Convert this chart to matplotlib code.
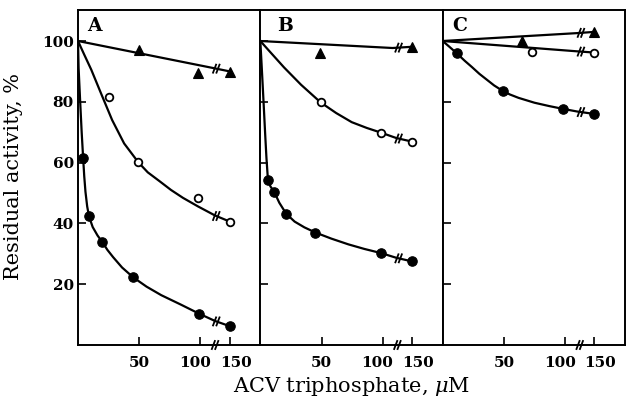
import matplotlib
matplotlib.use("Agg")
import matplotlib.pyplot as plt
import numpy as np

plt.rcParams['font.family'] = ['DejaVu Serif']
plt.rcParams['mathtext.fontset'] = 'dejavuserif'

# ---- data (concentration in uM, residual activity %) ----
panels = ["A", "B", "C"]
tick_values = [50, 100, 150]
tick_labels = ["50", "100", "150"]
y_ticks = [20, 40, 60, 80, 100]

# Panel A
A_tri_x = [50, 98, 150]
A_tri_y = [97, 89.6, 89.8]
A_open_x = [25.3, 49.3, 98, 150]
A_open_y = [81.7, 60.1, 48.2, 40.6]
A_fill_x = [4.2, 9, 20, 45, 98.7, 150]
A_fill_y = [61.5, 42.3, 33.8, 22.3, 10.2, 6.2]
# fitted curves
A_tri_fit_x = [0, 110.6, 150]
A_tri_fit_y = [100, 91.1, 90]
A_open_fit_x = [0, 5, 10.8, 19.3, 27.9, 37.7, 49.3, 57, 66.6, 76, 85.8, 98, 112, 150]
A_open_fit_y = [100, 95.6, 90.6, 82.3, 74.0, 66.3, 60.1, 56.8, 53.9, 51.0, 48.4, 45.6, 42.6, 40.6]
A_fill_fit_x = [0, 0.5, 1.2, 1.9, 3.0, 4.2, 5.1, 6.1, 7.5, 9.0, 12, 16, 20, 24, 28.7, 36, 45, 56, 68, 84, 99, 112, 150]
A_fill_fit_y = [100, 91, 85, 79, 70, 61.5, 55.5, 50.4, 45.6, 42.3, 38.8, 36.0, 33.8, 31.3, 28.9, 25.5, 22.3, 19.2, 16.4, 13.3, 10.3, 7.9, 6.2]

# Panel B
B_tri_x = [49, 150]
B_tri_y = [96.1, 98.1]
B_open_x = [49.3, 98.8, 150]
B_open_y = [79.8, 69.8, 66.9]
B_fill_x = [6.2, 11.3, 21.1, 45, 99, 150]
B_fill_y = [54.4, 50.4, 43.2, 37.0, 30.2, 27.5]
B_tri_fit_x = [0, 108, 150]
B_tri_fit_y = [100, 97.7, 98.1]
B_open_fit_x = [0, 8, 19.4, 33.3, 49.3, 62, 74.7, 87, 99, 111, 150]
B_open_fit_y = [100, 96.4, 91.3, 85.6, 79.8, 76.3, 73.3, 71.4, 69.8, 68.1, 66.9]
B_fill_fit_x = [0, 1.0, 1.9, 3.0, 4.0, 5.0, 6.2, 8.2, 11.3, 15.5, 21.1, 28, 36, 45, 58, 72, 85, 99, 111, 150]
B_fill_fit_y = [100, 92.5, 85.6, 77, 69, 61.5, 54.4, 52.2, 50.4, 46.8, 43.2, 40.6, 38.7, 37.0, 35.0, 33.1, 31.6, 30.2, 28.7, 27.5]

# Panel C
C_tri_x = [65, 150]
C_tri_y = [100, 103]
C_open_x = [73, 150]
C_open_y = [96.5, 96.2]
C_fill_x = [11.4, 49, 98, 150]
C_fill_y = [96, 83.6, 77.7, 76]
C_tri_fit_x = [0, 110, 150]
C_tri_fit_y = [100, 102.6, 103]
C_open_fit_x = [0, 110, 150]
C_open_fit_y = [100, 96.6, 96.2]
C_fill_fit_x = [0, 5.5, 11.4, 18, 24, 30, 36, 42, 49, 55, 62, 75, 87, 98, 110, 150]
C_fill_fit_y = [100, 98.1, 96, 93.5, 91.4, 89.2, 87.3, 85.4, 83.6, 82.4, 81.3, 79.7, 78.6, 77.7, 76.8, 76]

BREAK = 112.0
label_shift = [0, -4.2, 4.8]   # tick-label nudges (display units), as in the figure


def disp(c):
    """map concentration to broken-axis display coordinate"""
    c = np.asarray(c, dtype=float)
    return np.where(c <= BREAK, c, BREAK + (c - BREAK) * (124 - BREAK) / (150 - BREAK))


def slashes(ax, x, y, clip=True):
    for dx in (-1.4, 1.4):
        xc = x + dx
        ax.plot([xc - 1.5, xc + 1.5], [y - 1.6, y + 1.6], color='black', lw=1.3,
                solid_capstyle='butt', zorder=5, clip_on=clip)


data = {
    "A": [(A_tri_x, A_tri_y, A_tri_fit_x, A_tri_fit_y, 'tri'),
          (A_open_x, A_open_y, A_open_fit_x, A_open_fit_y, 'open'),
          (A_fill_x, A_fill_y, A_fill_fit_x, A_fill_fit_y, 'fill')],
    "B": [(B_tri_x, B_tri_y, B_tri_fit_x, B_tri_fit_y, 'tri'),
          (B_open_x, B_open_y, B_open_fit_x, B_open_fit_y, 'open'),
          (B_fill_x, B_fill_y, B_fill_fit_x, B_fill_fit_y, 'fill')],
    "C": [(C_tri_x, C_tri_y, C_tri_fit_x, C_tri_fit_y, 'tri'),
          (C_open_x, C_open_y, C_open_fit_x, C_open_fit_y, 'open'),
          (C_fill_x, C_fill_y, C_fill_fit_x, C_fill_fit_y, 'fill')],
}

styles = {
    'tri': dict(marker='^', ms=7.5, mfc='black', mec='black', mew=0.8),
    'open': dict(marker='o', ms=5.5, mfc='white', mec='black', mew=1.3),
    'fill': dict(marker='o', ms=6.8, mfc='black', mec='black', mew=0.8),
}

fig = plt.figure(figsize=(6.26, 3.98), dpi=100)
W, H = 626.0, 398.0
left_px, right_px, top_px, bot_px = 78.0, 625.0, 10.0, 345.0
pw = (right_px - left_px) / 3.0
label_offsets = {"A": 0.05, "B": 0.09, "C": 0.05}

for i, name in enumerate(panels):
    ax = fig.add_axes([(left_px + i * pw) / W, (H - bot_px) / H, pw / W, (bot_px - top_px) / H])
    ax.set_xlim(0, 149)
    ax.set_ylim(0, 110.2)
    for s in ax.spines.values():
        s.set_linewidth(1.4)
    ax.set_xticks(disp(tick_values))
    ax.set_xticklabels([])
    for tv, tl, sh in zip(tick_values, tick_labels, label_shift):
        ax.text(float(disp(tv)) + sh, -6.0, tl, fontsize=11, fontweight='bold',
                ha='center', va='center', clip_on=False)
    ax.set_yticks(y_ticks)
    ax.tick_params(axis='both', direction='in', length=6, width=1.2)
    ax.tick_params(axis='y', pad=3)
    if i == 0:
        ax.set_yticklabels([str(v) for v in y_ticks], fontsize=11, fontweight='bold')
    else:
        ax.set_yticklabels([])
    for px, py, fx, fy, kind in data[name]:
        dfx = disp(fx)
        ax.plot(dfx, fy, color='black', lw=1.6, zorder=2, solid_capstyle='round',
                solid_joinstyle='round')
        ax.plot(disp(px), py, ls='none', zorder=4, **styles[kind])
        slashes(ax, BREAK + 1, float(np.interp(BREAK + 1, dfx, fy)))
    slashes(ax, BREAK, 0, clip=False)
    ax.text(label_offsets[name], 0.952, name, transform=ax.transAxes, fontsize=13.5,
            fontweight='bold', ha='left', va='center')

fig.text(14 / W, 1 - 177 / H, "Residual activity, %", rotation=90, fontsize=15,
         ha='center', va='center')
fig.text((left_px + right_px) / 2 / W, 1 - 387 / H, r"ACV triphosphate, $\mu$M",
         fontsize=15, ha='center', va='center')

fig.savefig("out.png", dpi=100)
